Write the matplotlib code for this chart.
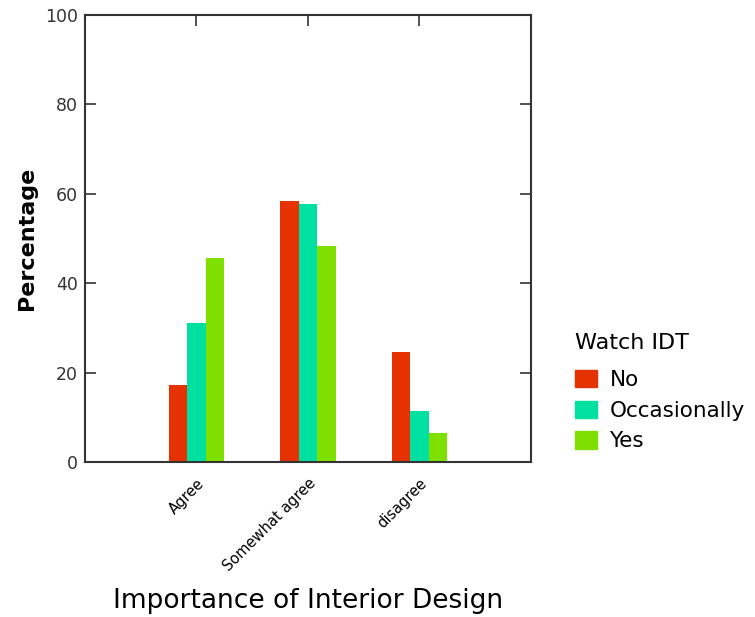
import numpy as np
import matplotlib.pyplot as plt
from matplotlib.patches import Patch

plt.rcParams['font.family'] = ['DejaVu Sans']

categories = ["Agree", "Somewhat agree", "disagree"]
series = ["No", "Occasionally", "Yes"]
no_vals = [17.3, 58.5, 24.5]
occ_vals = [31.2, 57.7, 11.3]
yes_vals = [45.6, 48.4, 6.6]
colors = ["#e63200", "#00e0a0", "#7fe000"]

fig = plt.figure(figsize=(7.55, 6.17), dpi=100)
ax = fig.add_axes([0.1126, 0.2512, 0.5904, 0.7245])

x = np.arange(len(categories))
w = 0.166
for i, vals in enumerate([no_vals, occ_vals, yes_vals]):
	ax.bar(x + (i - 1) * w, vals, width=w, color=colors[i], linewidth=0)

ax.set_xlim(-1, 3)
ax.set_ylim(0, 100)
ax.set_yticks([0, 20, 40, 60, 80, 100])
ax.tick_params(axis='y', direction='in', length=8, width=1.2, right=True,
	labelsize=12.5, colors='#333333', labelcolor='#333333', pad=5)
ax.set_xticks(x)
ax.set_xticklabels(categories, rotation=45, ha='right', va='top',
	rotation_mode='anchor', fontsize=10.5)
ax.tick_params(axis='x', direction='in', length=8, width=1.2, top=True,
	bottom=False, colors='#333333', labelcolor='black', pad=10)
for s in ax.spines.values():
	s.set_linewidth(1.5)
	s.set_color('#333333')

ax.set_ylabel("Percentage", fontsize=16, fontweight='bold', labelpad=6)
ax.set_xlabel("Importance of Interior Design", fontsize=19, labelpad=10)

#legend
handles = [Patch(color=c, label=s) for c, s in zip(colors, series)]
leg = fig.legend(handles=handles, title="Watch IDT", loc='upper left',
	bbox_to_anchor=(0.7616, 0.46), frameon=False, fontsize=15.5,
	title_fontsize=16, handlelength=1.0, handleheight=0.85,
	handletextpad=0.6, labelspacing=0.5, borderaxespad=0, borderpad=0)
leg._legend_box.align = "left"
leg._legend_box.sep = 12  # a bit more room under the title

fig.savefig("out.png", dpi=100)
